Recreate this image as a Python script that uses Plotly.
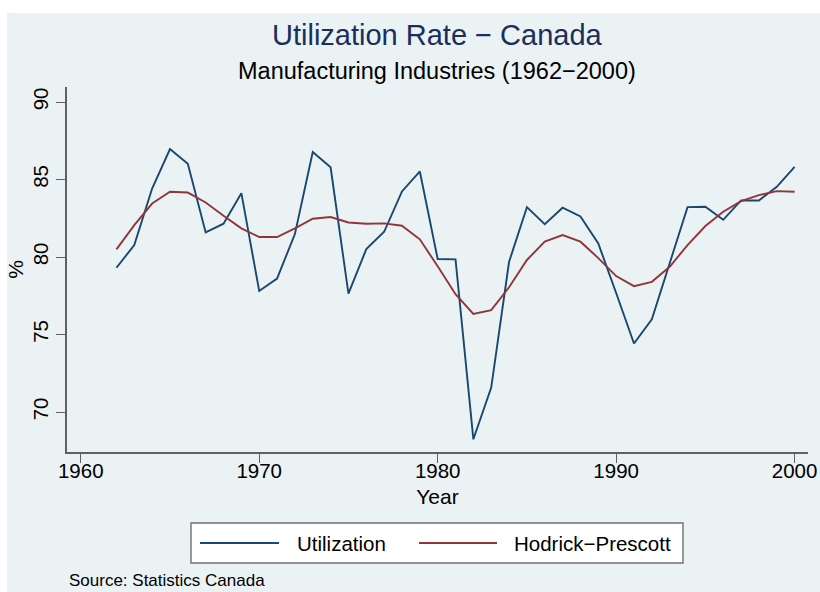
import plotly.graph_objects as go

# ---------------- data ----------------
years = [1962, 1963, 1964, 1965, 1966, 1967, 1968, 1969, 1970, 1971,
         1972, 1973, 1974, 1975, 1976, 1977, 1978, 1979, 1980, 1981,
         1982, 1983, 1984, 1985, 1986, 1987, 1988, 1989, 1990, 1991,
         1992, 1993, 1994, 1995, 1996, 1997, 1998, 1999, 2000]
utilization = [79.31, 80.77, 84.42, 86.97, 86.01, 81.59, 82.15, 84.12, 77.81, 78.61,
               81.48, 86.78, 85.79, 77.64, 80.51, 81.63, 84.23, 85.52, 79.87, 79.85,
               68.24, 71.58, 79.69, 83.22, 82.12, 83.18, 82.62, 80.87, 77.68, 74.42,
               75.98, 79.58, 83.22, 83.24, 82.40, 83.65, 83.65, 84.53, 85.82]
hodrick_prescott = [80.49, 82.06, 83.45, 84.21, 84.16, 83.52, 82.66, 81.85, 81.29, 81.29,
                    81.85, 82.47, 82.58, 82.23, 82.15, 82.17, 82.02, 81.14, 79.40, 77.60,
                    76.33, 76.57, 78.05, 79.81, 80.99, 81.42, 80.99, 79.93, 78.77, 78.12,
                    78.40, 79.37, 80.77, 82.00, 82.92, 83.61, 83.99, 84.25, 84.21]
x_ticks = [1960, 1970, 1980, 1990, 2000]
y_ticks = [70, 75, 80, 85, 90]
y_grid = [70, 75, 80, 85]
series_names = ["Utilization", "Hodrick\u2212Prescott"]

title_text = "Utilization Rate \u2212 Canada"
subtitle_text = "Manufacturing Industries (1962\u22122000)"
source_text = "Source: Statistics Canada"

# ---------------- style ----------------
W, H = 820, 592
L, R, T, B = 67, 808, 87, 452          # plot area in px
BG = "#eaf2f3"
NAVY = "#1a476f"
MAROON = "#90353b"
TITLE_C = "#1c2e5c"
AX_C = "#606060"
FONT = "Liberation Sans, Arial, sans-serif"


def px_x(p):
    return (p - L) / (R - L)


def px_y(p):
    return (B - p) / (B - T)


fig = go.Figure()
fig.add_trace(go.Scatter(x=years, y=utilization, mode="lines", name=series_names[0],
                         line=dict(color=NAVY, width=1.9), showlegend=False))
fig.add_trace(go.Scatter(x=years, y=hodrick_prescott, mode="lines", name=series_names[1],
                         line=dict(color=MAROON, width=1.9), showlegend=False))
# invisible trace on overlay axis carrying the grid
fig.add_trace(go.Scatter(x=[years[0]], y=[utilization[0]], yaxis="y2", mode="lines",
                         showlegend=False, hoverinfo="skip", line=dict(width=0)))

yrange = [67.42, 90.97]
fig.update_layout(
    width=W, height=H,
    margin=dict(l=L, r=W - R, t=T, b=H - B, autoexpand=False),
    paper_bgcolor="white",
    plot_bgcolor="white",
    font=dict(family=FONT, color="black"),
    showlegend=False,
    xaxis=dict(range=[1959.23, 2000.75], tickvals=x_ticks, ticks="outside", ticklen=9,
               tickwidth=1.2, tickcolor=AX_C, showline=True, linecolor=AX_C, linewidth=1.6,
               showgrid=False, zeroline=False, tickfont=dict(size=20.5, color="black"),
               ticklabelstandoff=-9, automargin=False, ticklabeloverflow="allow",
               title=dict(text="Year", font=dict(size=21, color="black"), standoff=8)),
    yaxis=dict(range=yrange, tickvals=y_ticks, ticks="outside", ticklen=9,
               tickwidth=1.2, tickcolor=AX_C, showline=True, linecolor=AX_C, linewidth=1.6,
               showgrid=False, zeroline=False, tickangle=-90, automargin=False,
               tickfont=dict(size=20.5, color="black"),
               title=dict(text="%", font=dict(size=21, color="black"), standoff=0)),
    yaxis2=dict(range=yrange, overlaying="y", tickvals=y_grid, showticklabels=False,
                showgrid=True, gridcolor=BG, gridwidth=1.6, zeroline=False, showline=False,
                ticks="", automargin=False),
)

shapes = [
    # outer graph region background
    dict(type="rect", xref="paper", yref="paper", layer="below",
         x0=px_x(7), x1=px_x(830), y0=px_y(600), y1=px_y(13),
         fillcolor=BG, line=dict(width=0)),
    # legend box
    dict(type="rect", xref="paper", yref="paper",
         x0=px_x(191), x1=px_x(683), y0=px_y(563), y1=px_y(523),
         fillcolor="white", line=dict(color="#707070", width=1.4)),
    dict(type="line", xref="paper", yref="paper",
         x0=px_x(200), x1=px_x(279), y0=px_y(543), y1=px_y(543),
         line=dict(color=NAVY, width=1.9)),
    dict(type="line", xref="paper", yref="paper",
         x0=px_x(419), x1=px_x(497), y0=px_y(543), y1=px_y(543),
         line=dict(color=MAROON, width=1.9)),
]

annotations = [
    dict(text=title_text, xref="paper", yref="paper", x=px_x(437), y=px_y(35),
         xanchor="center", yanchor="middle", showarrow=False,
         font=dict(size=29, color=TITLE_C)),
    dict(text=subtitle_text, xref="paper", yref="paper", x=px_x(437), y=px_y(71),
         xanchor="center", yanchor="middle", showarrow=False,
         font=dict(size=23.5, color="black")),
    dict(text=series_names[0], xref="paper", yref="paper", x=px_x(295), y=px_y(543),
         xanchor="left", yanchor="middle", showarrow=False,
         font=dict(size=20.5, color="black")),
    dict(text=series_names[1], xref="paper", yref="paper", x=px_x(512), y=px_y(543),
         xanchor="left", yanchor="middle", showarrow=False,
         font=dict(size=20.5, color="black")),
    dict(text=source_text, xref="paper", yref="paper", x=px_x(67), y=px_y(580),
         xanchor="left", yanchor="middle", showarrow=False,
         font=dict(size=17, color="black")),
]
fig.update_layout(shapes=shapes, annotations=annotations)

fig.write_html("out.html",
               config={"displayModeBar": False},
               post_script="document.body.style.margin='0';document.body.style.overflow='hidden';")
